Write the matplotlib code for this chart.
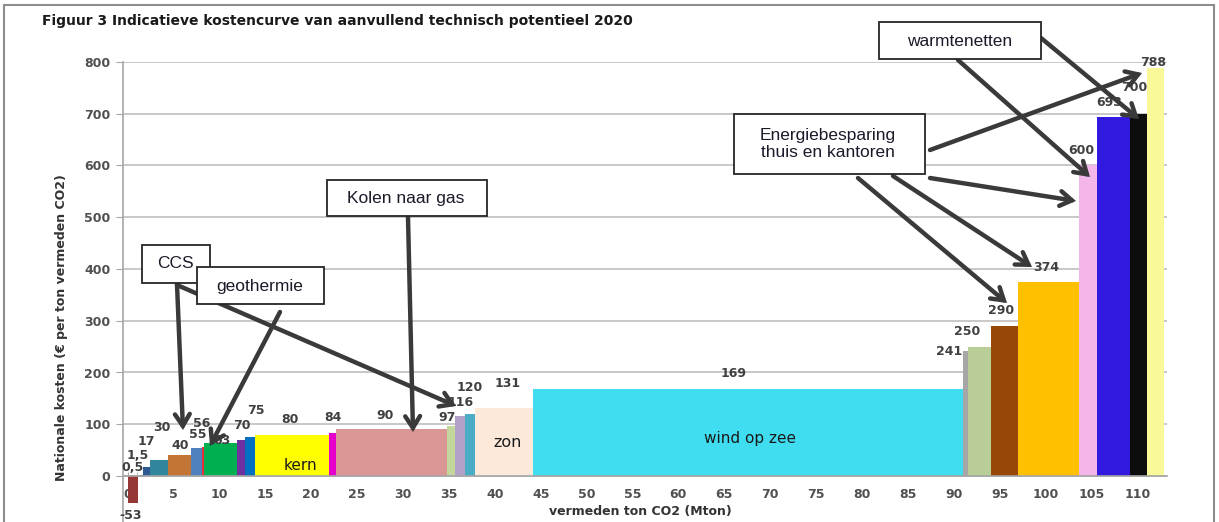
import numpy as np
import matplotlib
matplotlib.use("Agg")
import matplotlib.pyplot as plt
from matplotlib.patches import Rectangle

# potentieel (Mton) en kosten (euro per ton) per optie, van links naar rechts
widths = [1.1, 0.25, 0.3, 0.75, 2.0, 2.5, 1.2, 0.2, 3.6, 0.9, 1.1, 8.05, 0.75, 12.1,
          0.9, 1.1, 1.0, 6.4, 46.85, 0.45, 2.5, 2.95, 6.65, 2.05, 3.5, 1.95, 1.75]
costs = [-53, 0.5, 1.5, 17, 30, 40, 55, 56, 63, 70, 75, 80, 84, 90,
         97, 116, 120, 131, 169, 241, 250, 290, 374, 600, 693, 700, 788]
value_labels = ["-53", "0,5", "1,5", "17", "30", "40", "55", "56", "63", "70", "75", "80", "84", "90",
                "97", "116", "120", "131", "169", "241", "250", "290", "374", "600", "693", "700", "788"]
colors = ["#953735", "#1F497D", "#244A80", "#2E5A94", "#31859C", "#C27535", "#4F81BD", "#E8303A",
          "#00B050", "#7030A0", "#0070C0", "#FFFF00", "#E600CC", "#D99694", "#C3D69B", "#B3A2C7",
          "#4BACC6", "#FDE9D9", "#40DCF0", "#A6A6A6", "#B9CD96", "#974706", "#FFC000", "#F4B6E8",
          "#3219DF", "#0D0D0D", "#FAF99A"]

# label offsets in pixels (dx, dy) - hand placed like in the original
label_off = [(-2, -12), (-6, 8), (-4, 20), (0, 26), (3, 33), (1, 10), (1, 13), (-1, 24), (2, 3),
             (1, 14), (6, 27), (-2, 15), (0, 15), (-6, 14), (-4, 8), (0, 13), (0, 26), (4, 25),
             (-15, 15), (-16, 0), (-12, 15), (-3, 15), (-2, 15), (-7, 15), (-4, 15), (-4, 26), (-2, 6)]

W, H = 1219, 522
fig = plt.figure(figsize=(W / 100, H / 100), dpi=100)
fig.patch.set_facecolor("white")

xmin, xmax = -0.5, 113.2
ymin, ymax = -100, 800
px_x = 9.18
px_y = 0.5175
ax_w = (xmax - xmin) * px_x
ax_h = (ymax - ymin) * px_y
ax = fig.add_axes([123 / W, (H - 62 - ax_h) / H, ax_w / W, ax_h / H])
ax.set_xlim(xmin, xmax)
ax.set_ylim(ymin, ymax)

left = np.concatenate([[0], np.cumsum(widths)[:-1]])
ax.bar(left, costs, width=widths, align="edge", color=colors, linewidth=0, zorder=3)

# data labels
lab_col = "#404040"
for i in range(len(costs)):
    cx = left[i] + widths[i] / 2
    ax.annotate(value_labels[i], xy=(cx, costs[i]), xytext=label_off[i],
                textcoords="offset pixels", ha="center", va="center",
                fontsize=9, fontweight="bold", color=lab_col, zorder=5,
                annotation_clip=False)

# text inside bars
ax.text(18.8, 21, "kern", ha="center", va="center", fontsize=11, color="#1a1a1a", zorder=5)
ax.text(41.4, 64, "zon", ha="center", va="center", fontsize=11.5, color="#1a1a1a", zorder=5)
ax.text(67.8, 73, "wind op zee", ha="center", va="center", fontsize=11, color="#1a1a1a", zorder=5)

# axes styling
for s in ["top", "right"]:
    ax.spines[s].set_visible(False)
ax.spines["left"].set_color("#A6A6A6")
ax.spines["left"].set_linewidth(1.2)
ax.spines["bottom"].set_position(("data", 0))
ax.spines["bottom"].set_color("#A6A6A6")
ax.spines["bottom"].set_linewidth(1.2)
ax.spines["bottom"].set_zorder(4)

ax.set_yticks(np.arange(0, 801, 100))
ax.set_xticks(np.arange(0, 111, 5))
ax.set_xticks(np.arange(0, 113, 1), minor=True)
ax.tick_params(axis="y", length=5, color="#A6A6A6", labelsize=9, labelcolor="#505050", pad=4)
ax.tick_params(axis="x", which="both", direction="in", length=3, color="#A6A6A6",
               labelsize=9, labelcolor="#505050", pad=9)
for t in ax.get_xticklabels() + ax.get_yticklabels():
    t.set_fontweight("bold")
ax.grid(axis="y", color="#BFBFBF", linewidth=1.2, zorder=0)
ax.set_axisbelow(True)


def fp(x, y):
    return (x, H - y)


# titles and axis labels
fig.text(42 / W, 1 - 21 / H, "Figuur 3 Indicatieve kostencurve van aanvullend technisch potentieel 2020",
         fontsize=10, fontweight="bold", color="#1a1a1a", ha="left", va="center")
fig.text(62 / W, 1 - 328 / H, "Nationale kosten (\u20ac per ton vermeden CO2)", rotation=90,
         fontsize=9, fontweight="bold", color="#333333", ha="center", va="center")
fig.text(640 / W, 1 - 512 / H, "vermeden ton CO2 (Mton)", fontsize=9, fontweight="bold",
         color="#333333", ha="center", va="center")

# arrows (tail -> head), image pixel coords
arr_col = "#3a3a3a"
arrows = [((177, 284), (183, 430)), ((177, 285), (456, 406)), ((280, 312), (210, 446)),
          ((408, 217), (413, 432)), ((930, 150), (1142, 73)), ((930, 178), (1076, 201)),
          ((893, 176), (1032, 267)), ((858, 178), (1007, 303)), ((958, 60), (1090, 177)),
          ((1041, 38), (1139, 119))]
for tail, head in arrows:
    fig.add_artist(matplotlib.patches.FancyArrowPatch(
        fp(*tail), fp(*head), transform=None, arrowstyle="->,head_length=6,head_width=3.8",
        color=arr_col, lw=3.2, shrinkA=0, shrinkB=0, zorder=6, mutation_scale=1.4,
        capstyle="round", joinstyle="miter"))

# text boxes
boxes = [((142, 245, 210, 283), "CCS", (175, 264), 12.5),
         ((197, 267, 324, 304), "geothermie", (260, 287), 12.5),
         ((327, 180, 487, 216), "Kolen naar gas", (406, 198), 12.5),
         ((734, 114, 925, 174), "Energiebesparing\nthuis en kantoren", (828, 144), 12.5),
         ((879, 22, 1041, 59), "warmtenetten", (960, 41), 12.5)]
for (x0, y0, x1, y1), txt, (tx, ty), fs in boxes:
    r = Rectangle((x0, H - y1), x1 - x0, y1 - y0, transform=None, facecolor="white",
                  edgecolor="#262626", lw=1.3, zorder=7)
    fig.add_artist(r)
    fig.text(tx / W, 1 - ty / H, txt, ha="center", va="center", fontsize=fs,
             family="Liberation Sans", color="#1a1a2a", zorder=8, linespacing=1.1)

# outer frame
fig.add_artist(Rectangle((4, -10), 1210, H - 5 + 10, transform=None, fill=False,
                         edgecolor="#8c8c8c", lw=1.5, zorder=10))

fig.savefig("out.png", dpi=100)
